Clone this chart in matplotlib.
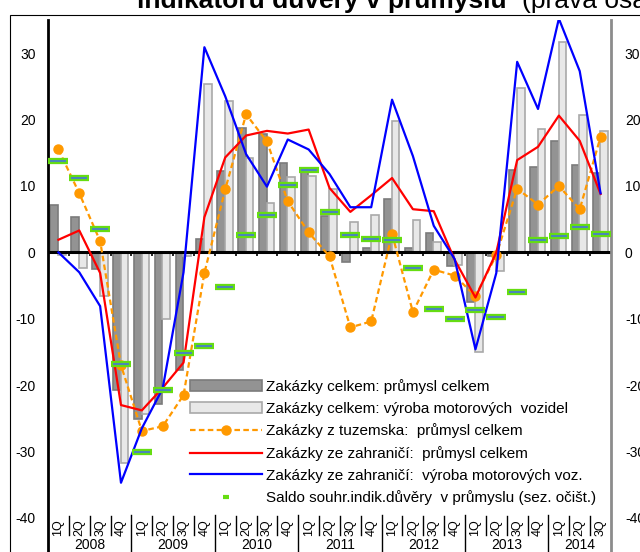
import matplotlib
matplotlib.use("Agg")
from matplotlib import pyplot as plt
from matplotlib.lines import Line2D
from matplotlib.patches import Patch, Rectangle
import numpy as np

plt.rcParams["font.family"] = ["Liberation Sans", "DejaVu Sans"]
plt.rcParams["axes.unicode_minus"] = False

years = ["2008", "2009", "2010", "2011", "2012", "2013", "2014"]
quarter_labels = ["1Q", "2Q", "3Q", "4Q"] * 6 + ["1Q", "2Q", "3Q"]

# Zakazky celkem: prumysl celkem (tmave sloupce)
orders_total_industry = [7.1, 5.4, -2.5, -20.7,
                         -25.1, -22.8, -17.7, 2.0,
                         12.2, 18.8, 17.8, 13.4,
                         12.1, 5.5, -1.4, 0.7,
                         8.1, 0.6, 2.9, -2.1,
                         -7.5, -0.5, 12.4, 12.8,
                         16.8, 13.1, 12.0]
# Zakazky celkem: vyroba motorovych vozidel (svetle sloupce)
orders_total_vehicles = [-0.4, -2.3, -6.6, -31.7,
                         -24.4, -10.1, -0.6, 25.3,
                         22.8, 14.2, 7.5, 11.3,
                         11.5, 9.5, 4.6, 5.7,
                         19.8, 4.9, 1.6, -1.9,
                         -15.0, -2.8, 24.7, 18.6,
                         31.7, 20.7, 18.3]
orders_domestic_industry = [15.5, 8.9, 1.7, -17.0,
                            -26.9, -26.2, -21.5, -3.1,
                            9.5, 20.8, 16.7, 7.7,
                            3.0, -0.6, -11.3, -10.4,
                            2.8, -9.0, -2.6, -3.5,
                            -6.6, -0.4, 9.6, 7.2,
                            10.0, 6.5, 17.4]
orders_foreign_industry = [1.9, 3.3, -3.1, -23.0,
                           -23.8, -20.4, -16.6, 5.3,
                           14.3, 17.6, 18.3, 17.9,
                           18.5, 9.7, 6.1, 8.6,
                           11.2, 6.5, 6.2, -1.1,
                           -6.8, 0.0, 13.9, 15.9,
                           20.6, 16.8, 8.8]
orders_foreign_vehicles = [0.0, -3.0, -8.1, -34.7,
                           -26.5, -20.5, -3.0, 30.9,
                           23.5, 14.8, 9.9, 17.0,
                           15.5, 11.8, 6.8, 6.8,
                           23.0, 14.5, 4.0, -1.0,
                           -14.6, -3.1, 28.7, 21.6,
                           35.2, 27.3, 8.9]
# saldo souhrnneho indikatoru duvery v prumyslu (prava osa)
confidence_balance = [13.8, 11.2, 3.5, -16.8,
                      -30.0, -20.8, -15.2, -14.1,
                      -5.2, 2.6, 5.7, 10.1,
                      12.4, 6.1, 2.6, 2.0,
                      1.8, -2.3, -8.6, -10.1,
                      -8.7, -9.8, -6.0, 1.9,
                      2.5, 3.8, 2.7]

legend_labels = ["Zakázky celkem: průmysl celkem",
                 "Zakázky celkem: výroba motorových  vozidel",
                 "Zakázky z tuzemska:  průmysl celkem",
                 "Zakázky ze zahraničí:  průmysl celkem",
                 "Zakázky ze zahraničí:  výroba motorových voz.",
                 "Saldo souhr.indik.důvěry  v průmyslu (sez. očišt.)"]
y_ticks = [-40, -30, -20, -10, 0, 10, 20, 30]

DARK, DARK_EDGE = "#939393", "#7b7b7b"
LIGHT, LIGHT_EDGE = "#e8e8e8", "#a9a9a9"
ORANGE, GREEN, GREEN_IN = "#ff9900", "#66dd11", "#4a86b8"

W, H = 640, 552
Y_MIN, Y_MAX = -45.13, 35.0

fig = plt.figure(figsize=(W / 100, H / 100), dpi=100)
ax = fig.add_axes([48 / W, 0, 563 / W, 532 / H])
x = np.arange(len(quarter_labels))

ax.bar(x - 0.2, orders_total_industry, width=0.37, color=DARK, edgecolor=DARK_EDGE, lw=1.2, zorder=2)
ax.bar(x + 0.17, orders_total_vehicles, width=0.37, color=LIGHT, edgecolor=LIGHT_EDGE, lw=1.2, zorder=2)
ax.axhline(0, color="black", lw=2.2, zorder=3)
ax.vlines(x[:-1] + 0.5, -0.55, 0, color="black", lw=1.2, zorder=3)

ax.plot(x, orders_domestic_industry, color=ORANGE, ls=(0, (2.5, 1.5)), lw=1.6,
        marker="o", ms=6.5, zorder=4)
ax.plot(x, orders_foreign_industry, color="red", lw=1.6, zorder=5)
ax.plot(x, orders_foreign_vehicles, color="blue", lw=1.6, zorder=6)

ax.set_xlim(-0.5, len(x) - 0.5)
ax.set_ylim(Y_MIN, Y_MAX)
ax.set_xticks([])
ax.set_yticks(y_ticks)
ax.tick_params(axis="y", length=0, pad=9, labelsize=10)
for side in ("top", "bottom", "right"):
    ax.spines[side].set_visible(False)
ax.spines["left"].set_linewidth(2)

# kategorie pod grafem: ctvrtleti a roky
for i, q in enumerate(quarter_labels):
    ax.text(i, -41.4, q, rotation=90, ha="center", va="center", fontsize=9)
for i in x[:-1]:
    if (i + 1) % 4 == 0:
        ax.plot([i + 0.5, i + 0.5], [-39.6, Y_MIN], color="black", lw=1, clip_on=False)
    else:
        ax.plot([i + 0.5, i + 0.5], [-39.7, -42.6], color="black", lw=1)
for k, year in enumerate(years):
    idx = [i for i in x if i // 4 == k]
    ax.text(np.mean(idx), -44.1, year, ha="center", va="center", fontsize=10)

ax2 = ax.twinx()
ax2.plot(x, confidence_balance, ls="none", marker="_", ms=14.5, mew=4.5, color=GREEN, zorder=5)
ax2.plot(x, confidence_balance, ls="none", marker="_", ms=11.5, mew=1.5, color=GREEN_IN, zorder=6)
ax2.set_ylim(Y_MIN, Y_MAX)
ax2.set_yticks(y_ticks)
ax2.tick_params(axis="y", length=0, pad=10, labelsize=10)
for side in ("top", "bottom", "left"):
    ax2.spines[side].set_visible(False)
ax2.spines["right"].set_color("#8c8c8c")
ax2.spines["right"].set_linewidth(2)

handles = [Patch(facecolor=DARK, edgecolor=DARK_EDGE, lw=1.2),
           Patch(facecolor=LIGHT, edgecolor=LIGHT_EDGE, lw=1.2),
           Line2D([], [], color=ORANGE, ls=(0, (2.5, 1.5)), lw=1.6, marker="o", ms=6.5),
           Line2D([], [], color="red", lw=1.6),
           Line2D([], [], color="blue", lw=1.6),
           Line2D([], [], ls="none", marker="_", ms=4, mew=3, color=GREEN)]
ax2.legend(handles, legend_labels, loc="lower left", bbox_to_anchor=(0.252, 0.088),
           frameon=False, borderpad=0, borderaxespad=0, fontsize=11,
           handlelength=4.7, handletextpad=0.3, labelspacing=0.5)

# useknuty nadpis a ramecek grafu
fig.text(137 / W, 1 - 8 / H, "indikátoru důvěry v průmyslu", fontsize=19,
         fontweight="bold", va="baseline")
fig.text(522 / W, 1 - 8 / H, "(pravá osa)", fontsize=19, va="baseline")
fig.add_artist(Rectangle((9.5 / W, -0.5), 1.5, 1 - 15 / H + 0.5, transform=fig.transFigure,
                         fill=False, edgecolor="black", lw=0.8))

fig.savefig("out.png", dpi=100)
